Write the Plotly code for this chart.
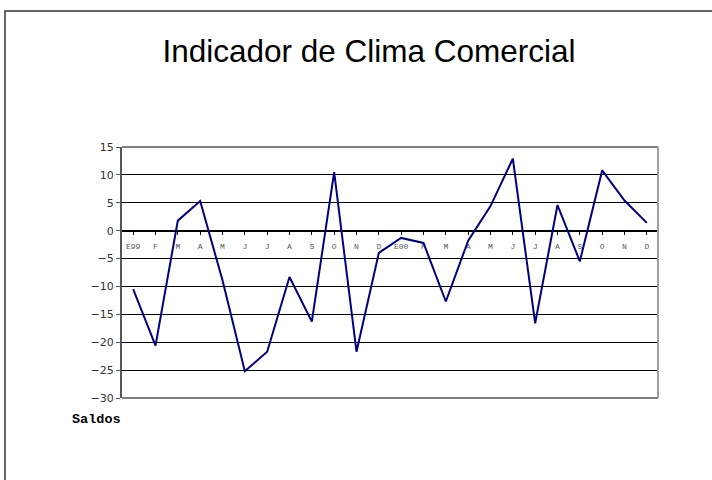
import plotly.graph_objects as go

categories = ["E99", "F", "M", "A", "M", "J", "J", "A", "S", "O", "N", "D",
              "E00", "F", "M", "A", "M", "J", "J", "A", "S", "O", "N", "D"]
saldos = [-10.5, -20.6, 1.8, 5.3, -8.9, -25.2, -21.7, -8.3, -16.3, 10.5, -21.7, -4.0,
          -1.3, -2.2, -12.7, -1.8, 4.4, 12.9, -16.6, 4.6, -5.5, 10.8, 5.4, 1.4]
y_ticks = [-30, -25, -20, -15, -10, -5, 0, 5, 10, 15]

x_idx = list(range(len(categories)))

fig = go.Figure()
fig.add_trace(go.Scatter(x=x_idx, y=saldos, mode="lines",
                         line=dict(color="#000080", width=2), showlegend=False))

ymin, ymax = y_ticks[0], y_ticks[-1]
zero_pos = (0 - ymin) / (ymax - ymin)

fig.update_layout(
    width=712, height=480,
    margin=dict(l=122, r=54, t=147, b=82),
    paper_bgcolor="white", plot_bgcolor="white",
    title=dict(text="Indicador de Clima Comercial", xref="container",
               x=369 / 712, xanchor="center",
               y=1 - 51 / 480, yanchor="middle",
               font=dict(family="Liberation Sans, Arial", size=31.5, color="black")),
    xaxis=dict(
        range=[-0.5, len(categories) - 0.5],
        tickmode="array", tickvals=x_idx, ticktext=categories,
        anchor="free", position=zero_pos,
        showline=True, linecolor="black", linewidth=1,
        ticks="outside", ticklen=3, tickcolor="black",
        ticklabelstandoff=5,
        showgrid=False, zeroline=False,
        tickfont=dict(family="Liberation Mono, Courier New", size=8, color="#555555"),
        layer="below traces",
    ),
    yaxis=dict(
        range=[ymin, ymax], tickvals=y_ticks, domain=[0, 1],
        showline=True, linecolor="#555555", linewidth=2,
        ticks="outside", ticklen=4, tickcolor="#555555",
        showgrid=True, gridcolor="black", gridwidth=1,
        zeroline=False,
        tickfont=dict(family="DejaVu Sans, Verdana", size=11, color="#333333"),
        layer="below traces",
    ),
    shapes=[
        dict(type="line", xref="paper", yref="paper", x0=0, x1=1, y0=1, y1=1,
             line=dict(color="#808080", width=2)),
        dict(type="line", xref="paper", yref="paper", x0=1, x1=1, y0=0, y1=1,
             line=dict(color="#a0a0a0", width=2)),
        dict(type="line", xref="paper", yref="paper", x0=0, x1=1, y0=0, y1=0,
             line=dict(color="#808080", width=2)),
        dict(type="rect", xref="paper", yref="paper",
             x0=(5 - 122) / 536, x1=(730 - 122) / 536,
             y0=(398 - 495) / 251, y1=(398 - 11) / 251,
             line=dict(color="#333333", width=1.5)),
    ],
    annotations=[
        dict(text="<b>Saldos</b>", xref="paper", yref="paper",
             x=(70 - 122) / 536, y=(398 - 419) / 251, xanchor="left", yanchor="middle",
             showarrow=False,
             font=dict(family="Liberation Mono, Courier New", size=13.5, color="black")),
    ],
)

fig.write_html("out.html", config={"displayModeBar": False},
               post_script="document.body.style.margin='0';")
